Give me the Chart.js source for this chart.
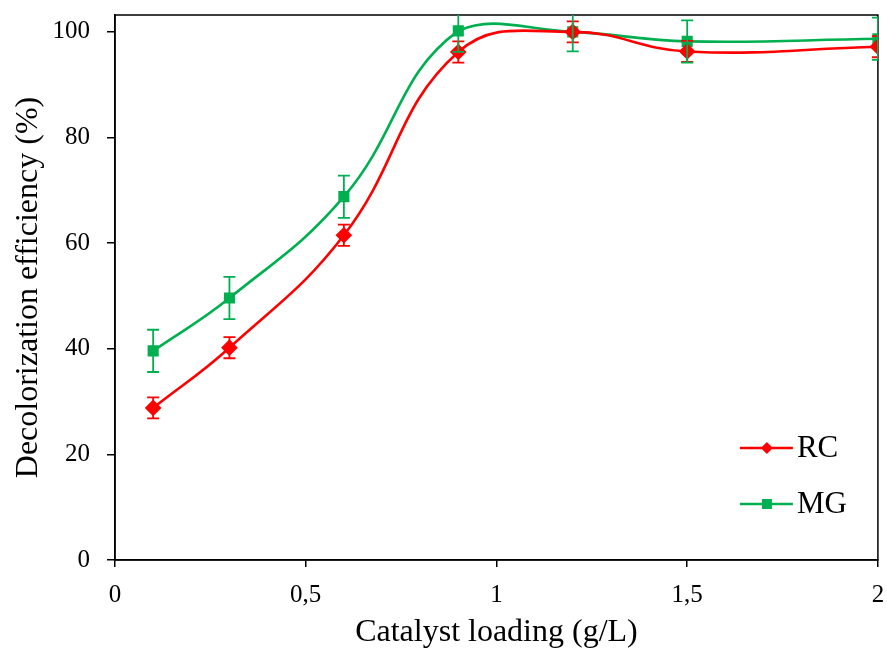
<!DOCTYPE html>
<html><head><meta charset="utf-8">
<script src="https://cdn.jsdelivr.net/npm/chart.js@4/dist/chart.umd.min.js"></script>
<style>html,body{margin:0;padding:0;background:#fff}#wrap{width:887px;height:652px}</style>
</head><body><div id="wrap"><canvas id="c" width="887" height="652"></canvas></div>
<script>
const loading = [0.1, 0.3, 0.6, 0.9, 1.2, 1.5, 2.0];
const rcValues = [28.8, 40.2, 61.5, 96.2, 100.0, 96.3, 97.2];
const rcErrors = [2.0, 2.0, 2.0, 2.0, 2.0, 2.0, 2.0];
const mgValues = [39.6, 49.6, 68.8, 100.2, 100.0, 98.2, 98.7];
const mgErrors = [4.0, 4.0, 4.0, 4.0, 3.7, 4.0, 4.0];
const xTickValues = [0, 0.5, 1, 1.5, 2];
const xTickLabels = ['0', '0,5', '1', '1,5', '2'];
const yTickValues = [0, 20, 40, 60, 80, 100];
const yTickLabels = ['0', '20', '40', '60', '80', '100'];
const seriesNames = ['RC', 'MG'];
const RED = '#FF0000', GREEN = '#00B050';
const FONT = "'Liberation Serif', 'Times New Roman', serif";

function pts(vals){ return loading.map((x,i)=>({x:x, y:vals[i]})); }

const errorBars = {
  id:'errorBars',
  afterDatasetsDraw(chart){
    const {ctx, chartArea:a, scales:{x, y}} = chart;
    ctx.save();
    ctx.beginPath(); ctx.rect(a.left, a.top, a.right-a.left, a.bottom-a.top); ctx.clip();
    chart.data.datasets.forEach(ds=>{
      ctx.strokeStyle = ds.borderColor; ctx.lineWidth = 1.8;
      ds.data.forEach((p,i)=>{
        const e = ds.errors[i];
        const px = x.getPixelForValue(p.x);
        const y1 = y.getPixelForValue(p.y+e), y2 = y.getPixelForValue(p.y-e);
        ctx.beginPath();
        ctx.moveTo(px,y1); ctx.lineTo(px,y2);
        ctx.moveTo(px-6,y1); ctx.lineTo(px+6,y1);
        ctx.moveTo(px-6,y2); ctx.lineTo(px+6,y2);
        ctx.stroke();
      });
    });
    ctx.restore();
  }
};

const frame = {
  id:'frame',
  beforeDatasetsDraw(chart){
    const {ctx, chartArea:a} = chart;
    ctx.save(); ctx.strokeStyle='#000'; ctx.lineWidth=1.5;
    ctx.strokeRect(a.left, a.top, a.right-a.left, a.bottom-a.top);
    ctx.restore();
  }
};

const legendIn = {
  id:'legendIn',
  afterDraw(chart){
    const {ctx, chartArea:a} = chart;
    ctx.save();
    chart.data.datasets.forEach((ds,i)=>{
      const ly = a.top + 433 + i*56;
      const lx = a.right - 138;
      ctx.strokeStyle = ds.borderColor; ctx.lineWidth = 2.4;
      ctx.beginPath(); ctx.moveTo(lx, ly); ctx.lineTo(lx+53, ly); ctx.stroke();
      ctx.fillStyle = ds.borderColor;
      const cx = lx+27;
      if (ds.pointStyle === 'rectRot') {
        ctx.beginPath(); ctx.moveTo(cx, ly-6); ctx.lineTo(cx+6, ly); ctx.lineTo(cx, ly+6); ctx.lineTo(cx-6, ly); ctx.closePath(); ctx.fill();
      } else {
        ctx.fillRect(cx-5, ly-5, 10, 10);
      }
      ctx.fillStyle = '#000'; ctx.font = "31px " + FONT; ctx.textBaseline='middle'; ctx.textAlign='left';
      ctx.fillText(ds.label, lx+57, ly+1);
    });
    ctx.restore();
  }
};

new Chart(document.getElementById('c'), {
  type:'scatter',
  data:{ datasets:[
    {label:seriesNames[0], data:pts(rcValues), errors:rcErrors, showLine:true, borderColor:RED, backgroundColor:RED,
     borderWidth:2.6, tension:0.42, pointStyle:'rectRot', pointRadius:6.5, pointHoverRadius:6.5},
    {label:seriesNames[1], data:pts(mgValues), errors:mgErrors, showLine:true, borderColor:GREEN, backgroundColor:GREEN,
     borderWidth:2.6, tension:0.42, pointStyle:'rect', pointRadius:6, pointHoverRadius:6}
  ]},
  options:{
    responsive:false, animation:false, devicePixelRatio:1,
    layout:{padding:{left:9, right:9, top:15, bottom:0}},
    plugins:{legend:{display:false}, tooltip:{enabled:false}},
    scales:{
      x:{type:'linear', min:0, max:2,
        afterBuildTicks(s){ s.ticks = xTickValues.map(v=>({value:v})); },
        afterFit(s){ s.height = 92; s.paddingLeft = 0; s.paddingRight = 0; },
        ticks:{callback:(v,i)=>xTickLabels[i], color:'#000', font:{family:FONT, size:25}, padding:13, maxRotation:0},
        grid:{drawOnChartArea:false, drawTicks:true, tickLength:7, color:'#000', lineWidth:1.5},
        border:{color:'#000', width:1.5},
        title:{display:true, text:'Catalyst loading (g/L)', color:'#000', font:{family:FONT, size:32}, padding:{top:0, bottom:0}}
      },
      y:{type:'linear', min:0, max:103.2,
        afterBuildTicks(s){ s.ticks = yTickValues.map(v=>({value:v})); },
        afterFit(s){ s.width = 106; s.paddingTop = 0; s.paddingBottom = 0; },
        ticks:{callback:(v,i)=>yTickLabels[i], color:'#000', font:{family:FONT, size:25}, padding:17},
        grid:{drawOnChartArea:false, drawTicks:true, tickLength:8, color:'#000', lineWidth:1.5},
        border:{color:'#000', width:1.5},
        title:{display:true, text:'Decolorization efficiency (%)', color:'#000', font:{family:FONT, size:32}, padding:{top:0, bottom:0}}
      }
    }
  },
  plugins:[frame, errorBars, legendIn]
});
</script></body></html>
